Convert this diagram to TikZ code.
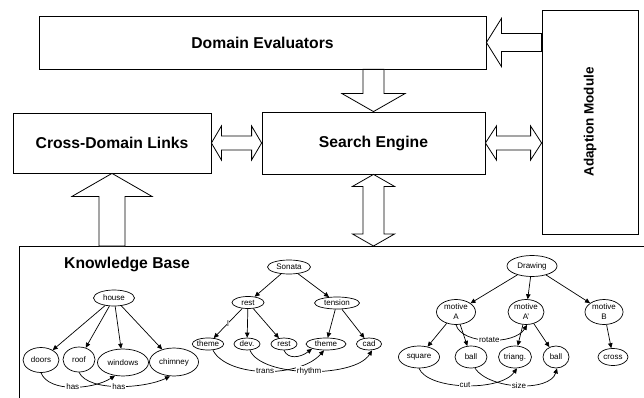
\documentclass[tikz,border=0pt]{standalone}
\usepackage{fontspec}
\setmainfont{Liberation Sans}
\usetikzlibrary{shapes.geometric,arrows.meta,calc}
\newcommand\titlefont{\fontsize{15.7}{18}\selectfont\bfseries}
\newcommand\modfont{\fontsize{13.5}{16}\selectfont\bfseries}
\newcommand\edgefont{\fontsize{8}{10}\selectfont}
\begin{document}
\begin{tikzpicture}[x=1pt,y=-1pt,
  box/.style={draw, line width=0.8pt, inner sep=0pt, font=\titlefont},
  ell/.style={draw, ellipse, inner sep=0pt, line width=0.7pt, font=\edgefont, align=center},
  rel/.style={-{Triangle[length=5pt,width=4.5pt]}, line width=0.7pt},
  lab/.style={fill=white, inner sep=1pt, font=\edgefont},
  hollow/.style={draw, line width=0.8pt, fill=white, line join=miter}]

\clip (0,0) rectangle (644,398);

% ---------- architecture boxes ----------
\node[draw, line width=0.8pt, inner sep=0pt, anchor=north west,
      minimum width=700pt, minimum height=200pt] (KB) at (19,246) {};
\node[font=\titlefont] (kbtitle) at (127,264) {Knowledge Base};

\node[box, minimum width=447pt, minimum height=53pt] (DE) at (262.5,42.5) {Domain Evaluators};
\node[box, minimum width=198pt, minimum height=60pt] (CDL) at (112,143) {Cross-Domain Links};
\node[box, minimum width=223pt, minimum height=62pt] (SE) at (373.5,143) {Search Engine};
\node[box, minimum width=96pt, minimum height=224pt] (AM) at (590,122) {};
\node[font=\modfont, rotate=90] (amlabel) at (AM.center) {Adaption Module};

% ---------- hollow block arrows ----------
% Adaption Module -> Domain Evaluators
\draw[hollow] (DE.east) -- ++(15,-24) -- ++(0,15)
  -- ($(AM.west|-DE.east)+(0,-9)$) -- ($(AM.west|-DE.east)+(0,9)$)
  -- ($(DE.east)+(15,9)$) -- ++(0,15) -- cycle;
% Domain Evaluators -> Search Engine
\draw[hollow] (SE.north) -- ++(-31.5,-18) -- ++(21,0)
  -- ($(SE.north|-DE.south)+(-10.5,0)$) -- ++(21,0)
  -- ($(SE.north)+(10.5,-18)$) -- ++(21,0) -- cycle;
% Cross-Domain Links <-> Search Engine
\draw[hollow] (CDL.east) -- ++(10,-17) -- ++(0,10)
  -- ($(SE.west)+(-10,-7)$) -- ++(0,-10) -- (SE.west) -- ++(-10,17) -- ++(0,-10)
  -- ($(CDL.east)+(10,7)$) -- ++(0,10) -- cycle;
% Search Engine <-> Adaption Module
\draw[hollow] (SE.east) -- ++(11,-17) -- ++(0,10)
  -- ($(AM.west|-SE.east)+(-11,-7)$) -- ++(0,-10) -- (AM.west|-SE.east) -- ++(-11,17) -- ++(0,-10)
  -- ($(SE.east)+(11,7)$) -- ++(0,10) -- cycle;
% Knowledge Base -> Cross-Domain Links
\draw[hollow] (CDL.south) -- ++(-40,23) -- ++(27,0)
  -- ($(CDL.south|-KB.north)+(-13,0)$) -- ++(26,0)
  -- ($(CDL.south)+(13,23)$) -- ++(27,0) -- cycle;
% Search Engine <-> Knowledge Base
\draw[hollow] (SE.south) -- ++(-21,12) -- ++(10.5,0)
  -- ($(SE.south|-KB.north)+(-10.5,-12)$) -- ++(-10.5,0) -- (SE.south|-KB.north)
  -- ++(21,-12) -- ++(-10.5,0) -- ($(SE.south)+(10.5,12)$) -- ++(10.5,0) -- cycle;

% ---------- house graph ----------
\node[ell, minimum width=41pt, minimum height=16pt] (house) at (114,298) {house};
\node[ell, minimum width=36pt, minimum height=25pt] (doors) at (41,360) {doors};
\node[ell, minimum width=32pt, minimum height=25pt] (roof) at (79,359.5) {roof};
\node[ell, minimum width=51pt, minimum height=27pt] (windows) at (123,362.5) {windows};
\node[ell, minimum width=49pt, minimum height=28pt] (chimney) at (174,362) {chimney};
\draw[rel] (house) -- (doors);
\draw[rel] (house) -- (roof);
\draw[rel] (house) -- (windows);
\draw[rel] (house) -- (chimney);
\draw[rel] (doors.south) .. controls +(8,20) and +(-22,14) .. node[lab]{has} ([xshift=-8pt,yshift=0.7pt]windows.south);
\draw[rel] (roof.south) .. controls +(10,20) and +(-25,12) .. node[lab]{has} ([xshift=-4pt]chimney.south);

% ---------- sonata graph ----------
\node[ell, minimum width=43pt, minimum height=14pt] (sonata) at (289,267) {Sonata};
\node[ell, minimum width=32pt, minimum height=12pt] (rest1) at (248,302.5) {rest};
\node[ell, minimum width=45pt, minimum height=12pt] (tension) at (337,303) {tension};
\node[ell, minimum width=31pt, minimum height=12pt] (theme1) at (208,344) {theme};
\node[ell, minimum width=26pt, minimum height=12pt] (dev) at (247,344) {dev.};
\node[ell, minimum width=26pt, minimum height=12pt] (rest2) at (284,344) {rest};
\node[ell, minimum width=40pt, minimum height=12pt] (theme2) at (326,344) {theme};
\node[ell, minimum width=25pt, minimum height=12pt] (cad) at (369,344) {cad};
\draw[rel] (sonata) -- (rest1);
\draw[rel] (sonata) -- (tension);
\draw[rel] (rest1) -- node[lab, inner sep=0.5pt]{l} (theme1);
\draw[rel] (rest1) -- (dev);
\draw[rel] (rest1) -- (rest2);
\draw[rel] (tension) -- (theme2);
\draw[rel] (tension) -- (cad);
\draw[rel] (rest2.south) .. controls +(4,9) and +(-12,9) .. ([xshift=-14pt,yshift=1.5pt]theme2.south);
\draw[rel] ([xshift=5pt]theme1.south) .. controls (228,378) and (300,378) .. node[lab, pos=0.5]{trans} ([xshift=-2pt]theme2.south);
\draw[rel] ([xshift=3pt]dev.south) .. controls (262,378) and (355,378) .. node[lab, pos=0.5]{rhythm} ([xshift=3pt]cad.south);

% ---------- drawing graph ----------
\node[ell, minimum width=50pt, minimum height=21pt] (drawing) at (532,266) {Drawing};
\node[ell, minimum width=39pt, minimum height=25pt] (mA) at (456,312) {motive\\A};
\node[ell, minimum width=36pt, minimum height=25pt] (mA2) at (526,312) {motive\\A'};
\node[ell, minimum width=38pt, minimum height=25pt] (mB) at (604,312) {motive\\B};
\node[ell, minimum width=41pt, minimum height=22pt] (square) at (419,357) {square};
\node[ell, minimum width=32pt, minimum height=22pt] (ball1) at (471,357) {ball};
\node[ell, minimum width=33pt, minimum height=22pt] (triang) at (515,357) {triang.};
\node[ell, minimum width=26pt, minimum height=22pt] (ball2) at (556,357) {ball};
\node[ell, minimum width=30pt, minimum height=17pt] (cross) at (613,357) {cross};
\draw[rel] (drawing) -- (mA);
\draw[rel] (drawing) -- (mA2);
\draw[rel] (drawing) -- (mB);
\draw[rel] (mA) -- (square);
\draw[rel] (mA) -- (ball1);
\draw[rel] (mA2) -- (triang);
\draw[rel] (mA2) -- (ball2);
\draw[rel] (mB) -- (cross);
\draw[rel] (mA.south) .. controls (462,345) and (515,345) .. node[lab, pos=0.5]{rotate} ([xshift=1pt]mA2.south);
\draw[rel] (square.south) .. controls (428,390) and (500,392) .. node[lab, pos=0.5]{cut} ([xshift=2pt]triang.south);
\draw[rel] ([xshift=4pt]ball1.south) .. controls (490,390) and (550,392) .. node[lab, pos=0.5]{size} ([xshift=1pt]ball2.south);
\end{tikzpicture}
\end{document}
